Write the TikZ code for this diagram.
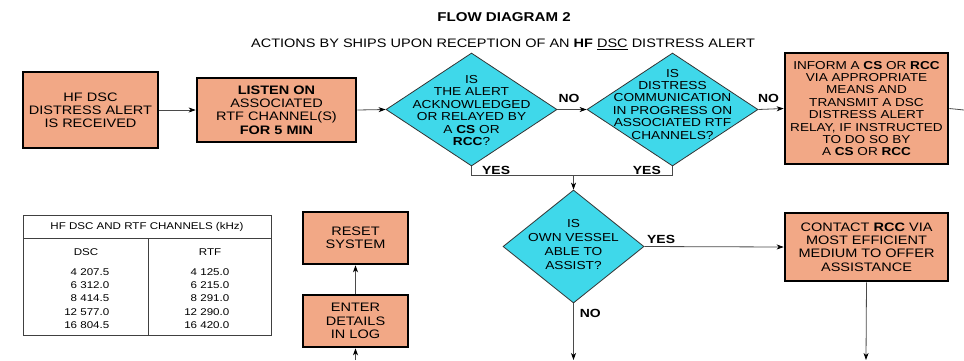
\documentclass[tikz,border=0pt]{standalone}
\usepackage{fontspec}
\setmainfont{Liberation Sans}[FakeStretch=1.18]
\usetikzlibrary{shapes.geometric,arrows.meta}
\definecolor{boxfill}{HTML}{F2A886}
\definecolor{decfill}{HTML}{3FD8EA}
\definecolor{wire}{HTML}{4A4A4A}
\tikzset{
  actbox/.style={draw=black,line width=2.6pt,fill=boxfill,inner sep=0pt,
    align=center,font=\fontsize{12.3}{13.2}\selectfont},
  decision/.style={draw=black!80,line width=0.8pt,fill=decfill,shape=diamond,
    inner sep=0pt},
  dectext/.style={align=center,font=\fontsize{11.6}{12.4}\selectfont},
  flow/.style={draw=wire,line width=0.8pt,-{Stealth[length=7pt,width=5pt,inset=2pt,black]}},
  wireline/.style={draw=wire,line width=0.8pt},
  answer/.style={font=\bfseries\fontsize{11.8}{12}\selectfont,inner sep=0pt},
  tabtext/.style={font=\fontsize{9.8}{13.4}\selectfont,inner sep=0pt}
}
\begin{document}
\begin{tikzpicture}[x=1pt,y=-1pt]
\useasboundingbox (0,0) rectangle (964,360);

% headings
\node[font=\bfseries\fontsize{12.8}{14}\selectfont] (title) at (504,17) {FLOW DIAGRAM 2};
\node[font=\fontsize{12.3}{14}\selectfont] (subtitle) at (503,44)
  {ACTIONS BY SHIPS UPON RECEPTION OF AN \textbf{HF} \underline{DSC} DISTRESS ALERT};

% top row
\node[actbox,minimum width=135pt,minimum height=76pt] (recv) at (90.5,110)
  {HF DSC\\DISTRESS ALERT\\IS RECEIVED};
\node[actbox,minimum width=159pt,minimum height=64pt] (listen) at (276.5,110)
  {\textbf{LISTEN ON}\\ASSOCIATED\\RTF CHANNEL(S)\\\textbf{FOR 5 MIN}};
\node[decision,minimum width=171pt,minimum height=113pt] (ack) at (471.5,109.5) {};
\node[dectext] (acktxt) at (471.5,110.5)
  {IS\\THE ALERT\\ACKNOWLEDGED\\OR RELAYED BY\\A \textbf{CS} OR\\\textbf{RCC}?};
\node[decision,minimum width=171pt,minimum height=113pt] (comm) at (672.5,109.5) {};
\node[dectext] (commtxt) at (672.5,104)
  {IS\\DISTRESS\\COMMUNICATION\\IN PROGRESS ON\\ASSOCIATED RTF\\CHANNELS?};
\node[actbox,minimum width=163pt,minimum height=111pt,
  font=\fontsize{11.5}{12.4}\selectfont] (inform) at (866.5,108.5)
  {INFORM A \textbf{CS} OR \textbf{RCC}\\VIA APPROPRIATE\\MEANS AND\\TRANSMIT A DSC\\DISTRESS ALERT\\RELAY, IF INSTRUCTED\\TO DO SO BY\\A \textbf{CS} OR \textbf{RCC}};
\coordinate (infout) at (964,110);

% second row
\node[decision,minimum width=141pt,minimum height=113pt] (able) at (573.5,246.5) {};
\node[dectext,font=\fontsize{11.6}{13.8}\selectfont] (abletxt) at (573.5,244.5)
  {IS\\OWN VESSEL\\ABLE TO\\ASSIST?};
\node[actbox,minimum width=163pt,minimum height=68pt] (contact) at (866.5,247)
  {CONTACT \textbf{RCC} VIA\\MOST EFFICIENT\\MEDIUM TO OFFER\\ASSISTANCE};
\node[actbox,minimum width=105pt,minimum height=52pt] (reset) at (355.5,238)
  {RESET\\SYSTEM};
\node[actbox,minimum width=105pt,minimum height=52pt] (log) at (355.5,321)
  {ENTER\\DETAILS\\IN LOG};

% loose ends at the lower edge
\coordinate (ableout) at (573.5,360);
\coordinate (contout) at (866,360);
\coordinate (login) at (355.5,360);
\coordinate (merge) at (573.5,175);

% connectors
\draw[flow] (recv.east) -- (listen.west);
\draw[flow] (listen.east) -- (ack.west);
\draw[flow] (ack.east) -- node[answer,above=6pt,pos=0.4] (no1) {NO} (comm.west);
\draw[flow] (comm.east) -- node[answer,above=6pt,pos=0.4] (no2) {NO} (inform.west);
\draw[wireline] (inform.east) -- (infout);
\draw[wireline] (ack.south) -- (ack.south |- merge) -- (comm.south |- merge) -- (comm.south);
\draw[flow] (merge) -- (able.north);
\node[answer,anchor=west] (yes1) at (482,170) {YES};
\node[answer,anchor=east] (yes2) at (661,170) {YES};
\draw[flow] (able.east) -- node[answer,pos=0.12,above=3pt] (yes3) {YES} (contact.west);
\draw[flow] (able.south) -- node[answer,pos=0.17,right=6pt] (no3) {NO} (ableout);
\draw[flow] (contact.south) -- (contout);
\draw[flow] (log.north) -- (reset.south);
\draw[flow] (login) -- (log.south);

% channel table
\draw[draw=black!75,line width=0.8pt] (23,215) rectangle (271,335);
\draw[draw=black!75,line width=0.8pt] (23,238) -- (271,238);
\draw[draw=black!75,line width=0.8pt] (148,238) -- (148,335);
\node[tabtext] (thead) at (147,227) {HF DSC AND RTF CHANNELS (kHz)};
\node[tabtext] (hdsc) at (86,252) {DSC};
\node[tabtext] (hrtf) at (210,252) {RTF};
\node[tabtext,align=right,anchor=north east] (vdsc) at (109.5,268)
  {4 207.5\\6 312.0\\8 414.5\\12 577.0\\16 804.5};
\node[tabtext,align=right,anchor=north east] (vrtf) at (229.5,268)
  {4 125.0\\6 215.0\\8 291.0\\12 290.0\\16 420.0};
\end{tikzpicture}
\end{document}
